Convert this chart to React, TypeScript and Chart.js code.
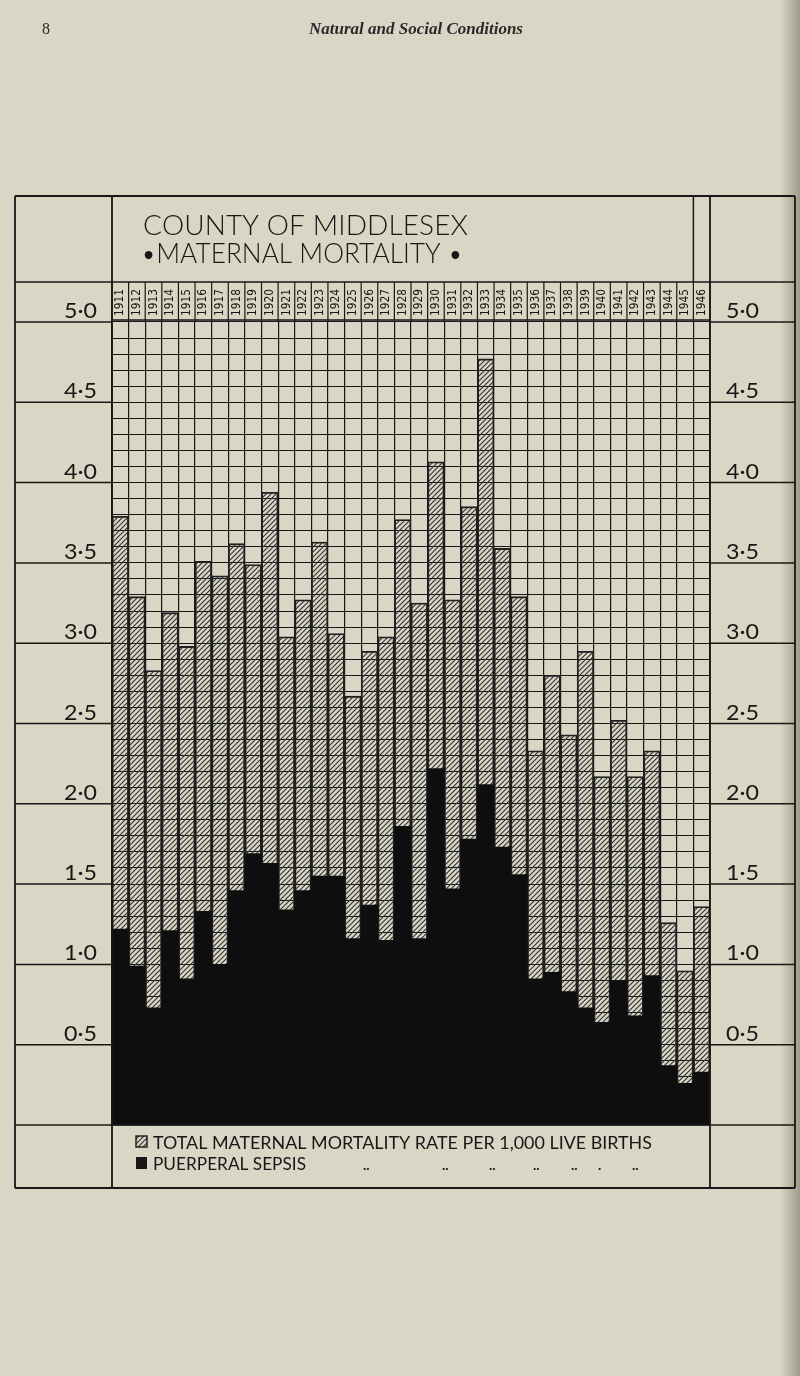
import React, { useEffect, useRef } from "react";
import { Chart, registerables } from "chart.js";

Chart.register(...registerables);

const years = [
  "1911", "1912", "1913", "1914", "1915", "1916", "1917", "1918", "1919", "1920",
  "1921", "1922", "1923", "1924", "1925", "1926", "1927", "1928", "1929", "1930",
  "1931", "1932", "1933", "1934", "1935", "1936", "1937", "1938", "1939", "1940",
  "1941", "1942", "1943", "1944", "1945", "1946",
];

const totalRate = [
  3.79, 3.29, 2.83, 3.19, 2.98, 3.51, 3.42, 3.62, 3.49, 3.94,
  3.04, 3.27, 3.63, 3.06, 2.67, 2.95, 3.04, 3.77, 3.25, 4.13,
  3.27, 3.85, 4.77, 3.59, 3.29, 2.33, 2.80, 2.43, 2.95, 2.17,
  2.52, 2.17, 2.33, 1.26, 0.96, 1.36,
];

const sepsisRate = [
  1.22, 0.99, 0.73, 1.21, 0.91, 1.33, 1.00, 1.46, 1.69, 1.63,
  1.34, 1.46, 1.55, 1.55, 1.16, 1.37, 1.15, 1.86, 1.16, 2.22,
  1.47, 1.78, 2.12, 1.73, 1.56, 0.91, 0.95, 0.83, 0.73, 0.64,
  0.90, 0.68, 0.93, 0.37, 0.26, 0.33,
];

const scaleValues = [0.5, 1.0, 1.5, 2.0, 2.5, 3.0, 3.5, 4.0, 4.5, 5.0];
const scaleLabels = ["0·5", "1·0", "1·5", "2·0", "2·5", "3·0", "3·5", "4·0", "4·5", "5·0"];

const titleLines = ["COUNTY OF MIDDLESEX", "•MATERNAL MORTALITY •"];
const legendLabels = [
  "TOTAL MATERNAL MORTALITY RATE PER 1,000 LIVE BIRTHS",
  "PUERPERAL SEPSIS",
];
const pageNumber = "8";
const runningHead = "Natural and Social Conditions";

const PAPER = "#d9d6c5";
const INK = "#171717";
const SANS = "Lato, 'DejaVu Sans', sans-serif";

function makeHatch(ctx: CanvasRenderingContext2D): CanvasPattern | string {
  const c = document.createElement("canvas");
  c.width = 5;
  c.height = 5;
  const g = c.getContext("2d");
  if (!g) return "#888";
  g.strokeStyle = "#303030";
  g.lineWidth = 1.1;
  g.beginPath();
  g.moveTo(-1, 6);
  g.lineTo(6, -1);
  g.moveTo(-2, 2);
  g.lineTo(2, -2);
  g.moveTo(3, 7);
  g.lineTo(7, 3);
  g.stroke();
  return ctx.createPattern(c, "repeat") || "#888";
}

function drawFitted(ctx: CanvasRenderingContext2D, text: string, x: number, y: number, width: number) {
  const w = ctx.measureText(text).width;
  ctx.save();
  ctx.translate(x, y);
  ctx.scale(width / w, 1);
  ctx.fillText(text, 0, 0);
  ctx.restore();
}

function drawSpaced(ctx: CanvasRenderingContext2D, text: string, x: number, y: number, width: number) {
  const chars = Array.from(text);
  const ws = chars.map((ch) => ctx.measureText(ch).width);
  const total = ws.reduce((a, b) => a + b, 0);
  if (total >= width) {
    drawFitted(ctx, text, x, y, width);
    return;
  }
  const gap = chars.length > 1 ? (width - total) / (chars.length - 1) : 0;
  let cx = x;
  chars.forEach((ch, i) => {
    ctx.fillText(ch, cx, y);
    cx += ws[i] + gap;
  });
}

function drawFittedAligned(
  ctx: CanvasRenderingContext2D,
  text: string,
  x: number,
  y: number,
  width: number,
  align: "left" | "right"
) {
  ctx.save();
  ctx.textAlign = "left";
  const start = align === "right" ? x - width : x;
  drawFitted(ctx, text, start, y, width);
  ctx.restore();
}

function line(ctx: CanvasRenderingContext2D, x1: number, y1: number, x2: number, y2: number, w = 1.5) {
  ctx.beginPath();
  ctx.lineWidth = w;
  ctx.moveTo(x1, y1);
  ctx.lineTo(x2, y2);
  ctx.stroke();
}

const FRAME_L = 15;
const FRAME_R = 795;
const FRAME_T = 196;
const FRAME_B = 1188;
const TITLE_B = 282;

const framePlugin = {
  id: "framePlugin",
  beforeDraw(chart: any) {
    const ctx: CanvasRenderingContext2D = chart.ctx;
    ctx.save();
    ctx.fillStyle = PAPER;
    ctx.fillRect(0, 0, chart.width, chart.height);
    const grad = ctx.createLinearGradient(780, 0, 800, 0);
    grad.addColorStop(0, "rgba(90,85,70,0)");
    grad.addColorStop(1, "rgba(90,85,70,0.45)");
    ctx.fillStyle = grad;
    ctx.fillRect(780, 0, 20, chart.height);
    ctx.restore();
  },
  afterDraw(chart: any) {
    const ctx: CanvasRenderingContext2D = chart.ctx;
    const area = chart.chartArea;
    const xs = chart.scales.x;
    const ys = chart.scales.y;
    const colW = (area.right - area.left) / years.length;
    ctx.save();
    ctx.strokeStyle = INK;
    ctx.fillStyle = INK;

    // running head
    ctx.font = "16px 'Liberation Serif', 'DejaVu Serif', serif";
    ctx.textBaseline = "alphabetic";
    ctx.textAlign = "left";
    ctx.fillStyle = "#2a2a2a";
    ctx.fillText(pageNumber, 42, 34);
    ctx.font = "italic bold 17px 'Liberation Serif', 'DejaVu Serif', serif";
    ctx.textAlign = "center";
    ctx.fillText(runningHead, 416, 34);
    ctx.fillStyle = INK;
    ctx.textAlign = "left";

    // outer frame and cells
    line(ctx, FRAME_L, FRAME_T, FRAME_R, FRAME_T, 1.8);
    line(ctx, FRAME_L, FRAME_B, FRAME_R, FRAME_B, 1.8);
    line(ctx, FRAME_L, FRAME_T, FRAME_L, FRAME_B, 1.8);
    line(ctx, FRAME_R, FRAME_T, FRAME_R, FRAME_B, 1.8);
    line(ctx, area.left, FRAME_T, area.left, FRAME_B, 1.8);
    line(ctx, area.right, FRAME_T, area.right, FRAME_B, 1.8);
    line(ctx, FRAME_L, TITLE_B, FRAME_R, TITLE_B, 1.6);
    line(ctx, FRAME_L, area.bottom, FRAME_R, area.bottom, 1.6);
    line(ctx, area.left, area.top - 2, area.right, area.top - 2, 1.6);
    const lastBoundary = area.right - colW;
    line(ctx, lastBoundary, FRAME_T, lastBoundary, TITLE_B, 1.5);

    // year row
    for (let i = 0; i <= years.length; i++) {
      const bx = area.left + i * colW;
      line(ctx, bx, TITLE_B, bx, area.top, 1.2);
    }
    ctx.font = "12px 'DejaVu Sans Condensed', 'Liberation Sans Narrow', 'DejaVu Sans', sans-serif";
    ctx.textBaseline = "middle";
    years.forEach((yr, i) => {
      const cx = xs.getPixelForValue(i);
      ctx.save();
      ctx.translate(cx, area.top - 6);
      ctx.rotate(-Math.PI / 2);
      drawFitted(ctx, yr, 0, 0, 27);
      ctx.restore();
    });

    // title
    ctx.textBaseline = "alphabetic";
    ctx.font = "300 28px " + SANS;
    drawSpaced(ctx, titleLines[0], 143, 235, 325);
    drawSpaced(ctx, titleLines[1], 141, 263, 322);

    // scale labels on both sides
    ctx.font = "21px " + SANS;
    scaleValues.forEach((v, i) => {
      const y = ys.getPixelForValue(v);
      line(ctx, FRAME_L, y, area.left, y, 1.5);
      line(ctx, area.right, y, FRAME_R, y, 1.5);
      drawFittedAligned(ctx, scaleLabels[i], 97, y - 4, 33, "right");
      drawFittedAligned(ctx, scaleLabels[i], 726, y - 4, 33, "left");
    });

    // legend
    const hatch = makeHatch(ctx);
    ctx.fillStyle = hatch as any;
    ctx.fillRect(136, 1136, 11, 11);
    ctx.lineWidth = 1.4;
    ctx.strokeRect(136, 1136, 11, 11);
    ctx.fillStyle = INK;
    ctx.fillRect(136, 1157, 11, 12);
    ctx.font = "17px " + SANS;
    drawFitted(ctx, legendLabels[0], 153, 1149, 499);
    drawFitted(ctx, legendLabels[1], 153, 1170, 153);
    ctx.font = "bold 14px " + SANS;
    [363, 442, 489, 533, 571, 632].forEach((dx) => ctx.fillText("..", dx, 1170));
    ctx.fillText(".", 598, 1170);

    ctx.restore();
  },
};

export default function App() {
  const ref = useRef<HTMLCanvasElement | null>(null);

  useEffect(() => {
    document.body.style.margin = "0";
    document.body.style.background = PAPER;
    const canvas = ref.current;
    if (!canvas) return;
    const ctx = canvas.getContext("2d");
    if (!ctx) return;
    const hatch = makeHatch(ctx);

    const chart = new Chart(canvas, {
      type: "bar",
      data: {
        labels: years,
        datasets: [
          {
            label: legendLabels[1],
            data: sepsisRate,
            backgroundColor: "#0e0e0e",
            borderWidth: 0,
            order: 0,
            grouped: false,
            barPercentage: 1,
            categoryPercentage: 1,
          } as any,
          {
            label: legendLabels[0],
            data: totalRate,
            backgroundColor: hatch as any,
            borderColor: "#1e1e1e",
            borderWidth: 1.2,
            borderSkipped: "bottom",
            order: 1,
            grouped: false,
            barPercentage: 1,
            categoryPercentage: 1,
          } as any,
        ],
      },
      options: {
        responsive: false,
        maintainAspectRatio: false,
        animation: false,
        events: [],
        layout: { padding: { left: 112, right: 90, top: 322, bottom: 251 } },
        plugins: {
          legend: { display: false },
          tooltip: { enabled: false },
          title: { display: false },
        },
        scales: {
          x: {
            type: "category",
            offset: true,
            ticks: { display: false },
            grid: { color: INK, lineWidth: 1.2, drawTicks: false, offset: true },
            border: { display: true, color: INK, width: 1.6 },
          },
          y: {
            type: "linear",
            min: 0,
            max: 5,
            ticks: { display: false, stepSize: 0.1, maxTicksLimit: 100 },
            grid: { color: INK, lineWidth: 1.1, drawTicks: false },
            border: { display: true, color: INK, width: 1.6 },
          },
        },
      } as any,
      plugins: [framePlugin],
    });

    return () => {
      chart.destroy();
    };
  }, []);

  return (
    <div style={{ width: 800, height: 1376, background: PAPER }}>
      <canvas ref={ref} width={800} height={1376} style={{ display: "block", width: 800, height: 1376 }} />
    </div>
  );
}
